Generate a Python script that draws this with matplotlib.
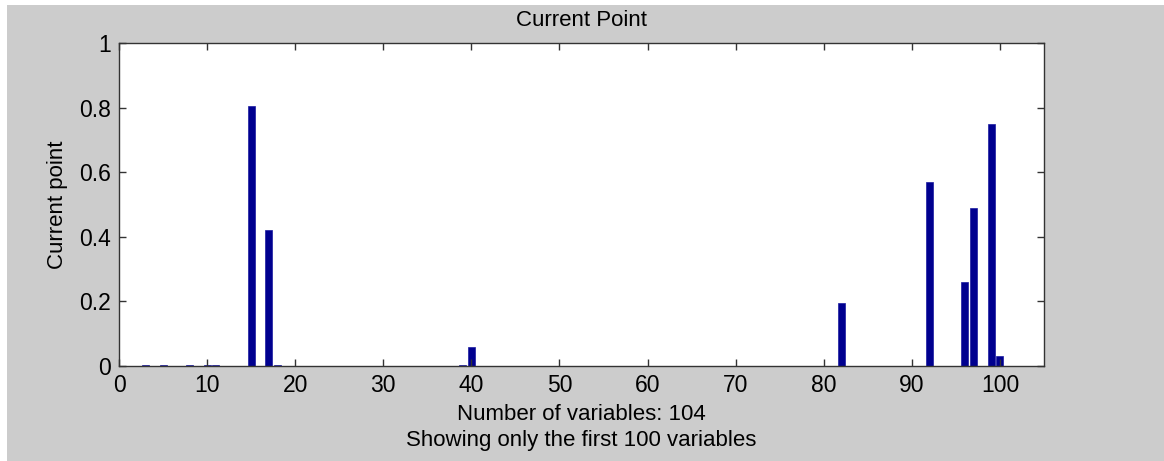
import matplotlib.pyplot as plt
from matplotlib.patches import Rectangle

plt.rcParams["font.family"] = ["Liberation Sans", "DejaVu Sans"]

# variable index and current point value (only the non-zero ones)
variables = [3, 5, 8, 10, 11, 15, 17, 18, 39, 40, 82, 92, 96, 97, 99, 100]
values = [0.004, 0.004, 0.004, 0.004, 0.004, 0.805, 0.42, 0.004, 0.004, 0.058,
          0.195, 0.57, 0.26, 0.49, 0.75, 0.03]

x_ticks = [0, 10, 20, 30, 40, 50, 60, 70, 80, 90, 100]
y_ticks = [0, 0.2, 0.4, 0.6, 0.8, 1]
y_tick_labels = ["0", "0.2", "0.4", "0.6", "0.8", "1"]

W, H = 1164, 461
fig = plt.figure(figsize=(W / 100, H / 100), dpi=100, facecolor="#cccccc")
# thin white strips along the top and left edges of the screenshot
fig.patches.append(Rectangle((0, 1 - 5 / H), 1, 5 / H, transform=fig.transFigure,
                             facecolor="white", edgecolor="none"))
fig.patches.append(Rectangle((0, 0), 7 / W, 1, transform=fig.transFigure,
                             facecolor="white", edgecolor="none"))

ax = fig.add_axes([119 / W, 1 - 366 / H, (1044 - 119) / W, (366 - 43) / H])
ax.set_facecolor("white")
ax.bar(variables, values, width=0.8, color="#00008f", edgecolor="#1a1aa0", linewidth=0.5)

ax.set_xlim(0, 105)
ax.set_ylim(0, 1)
ax.set_xticks(x_ticks)
ax.set_yticks(y_ticks)
ax.set_yticklabels(y_tick_labels)
ax.tick_params(direction="in", top=True, right=True, length=5, width=1,
               labelsize=16.5, colors="#333333", labelcolor="black")
ax.tick_params(axis="x", pad=6)
ax.tick_params(axis="y", pad=6)
for s in ax.spines.values():
    s.set_color("#333333")
    s.set_linewidth(1)

ax.set_title("Current Point", fontsize=16, pad=12)
ax.set_ylabel("Current point", fontsize=16, labelpad=8)
ax.set_xlabel("Number of variables: 104\nShowing only the first 100 variables",
              fontsize=16, labelpad=5, linespacing=1.3)

fig.savefig("out.png", dpi=100, facecolor=fig.get_facecolor())
